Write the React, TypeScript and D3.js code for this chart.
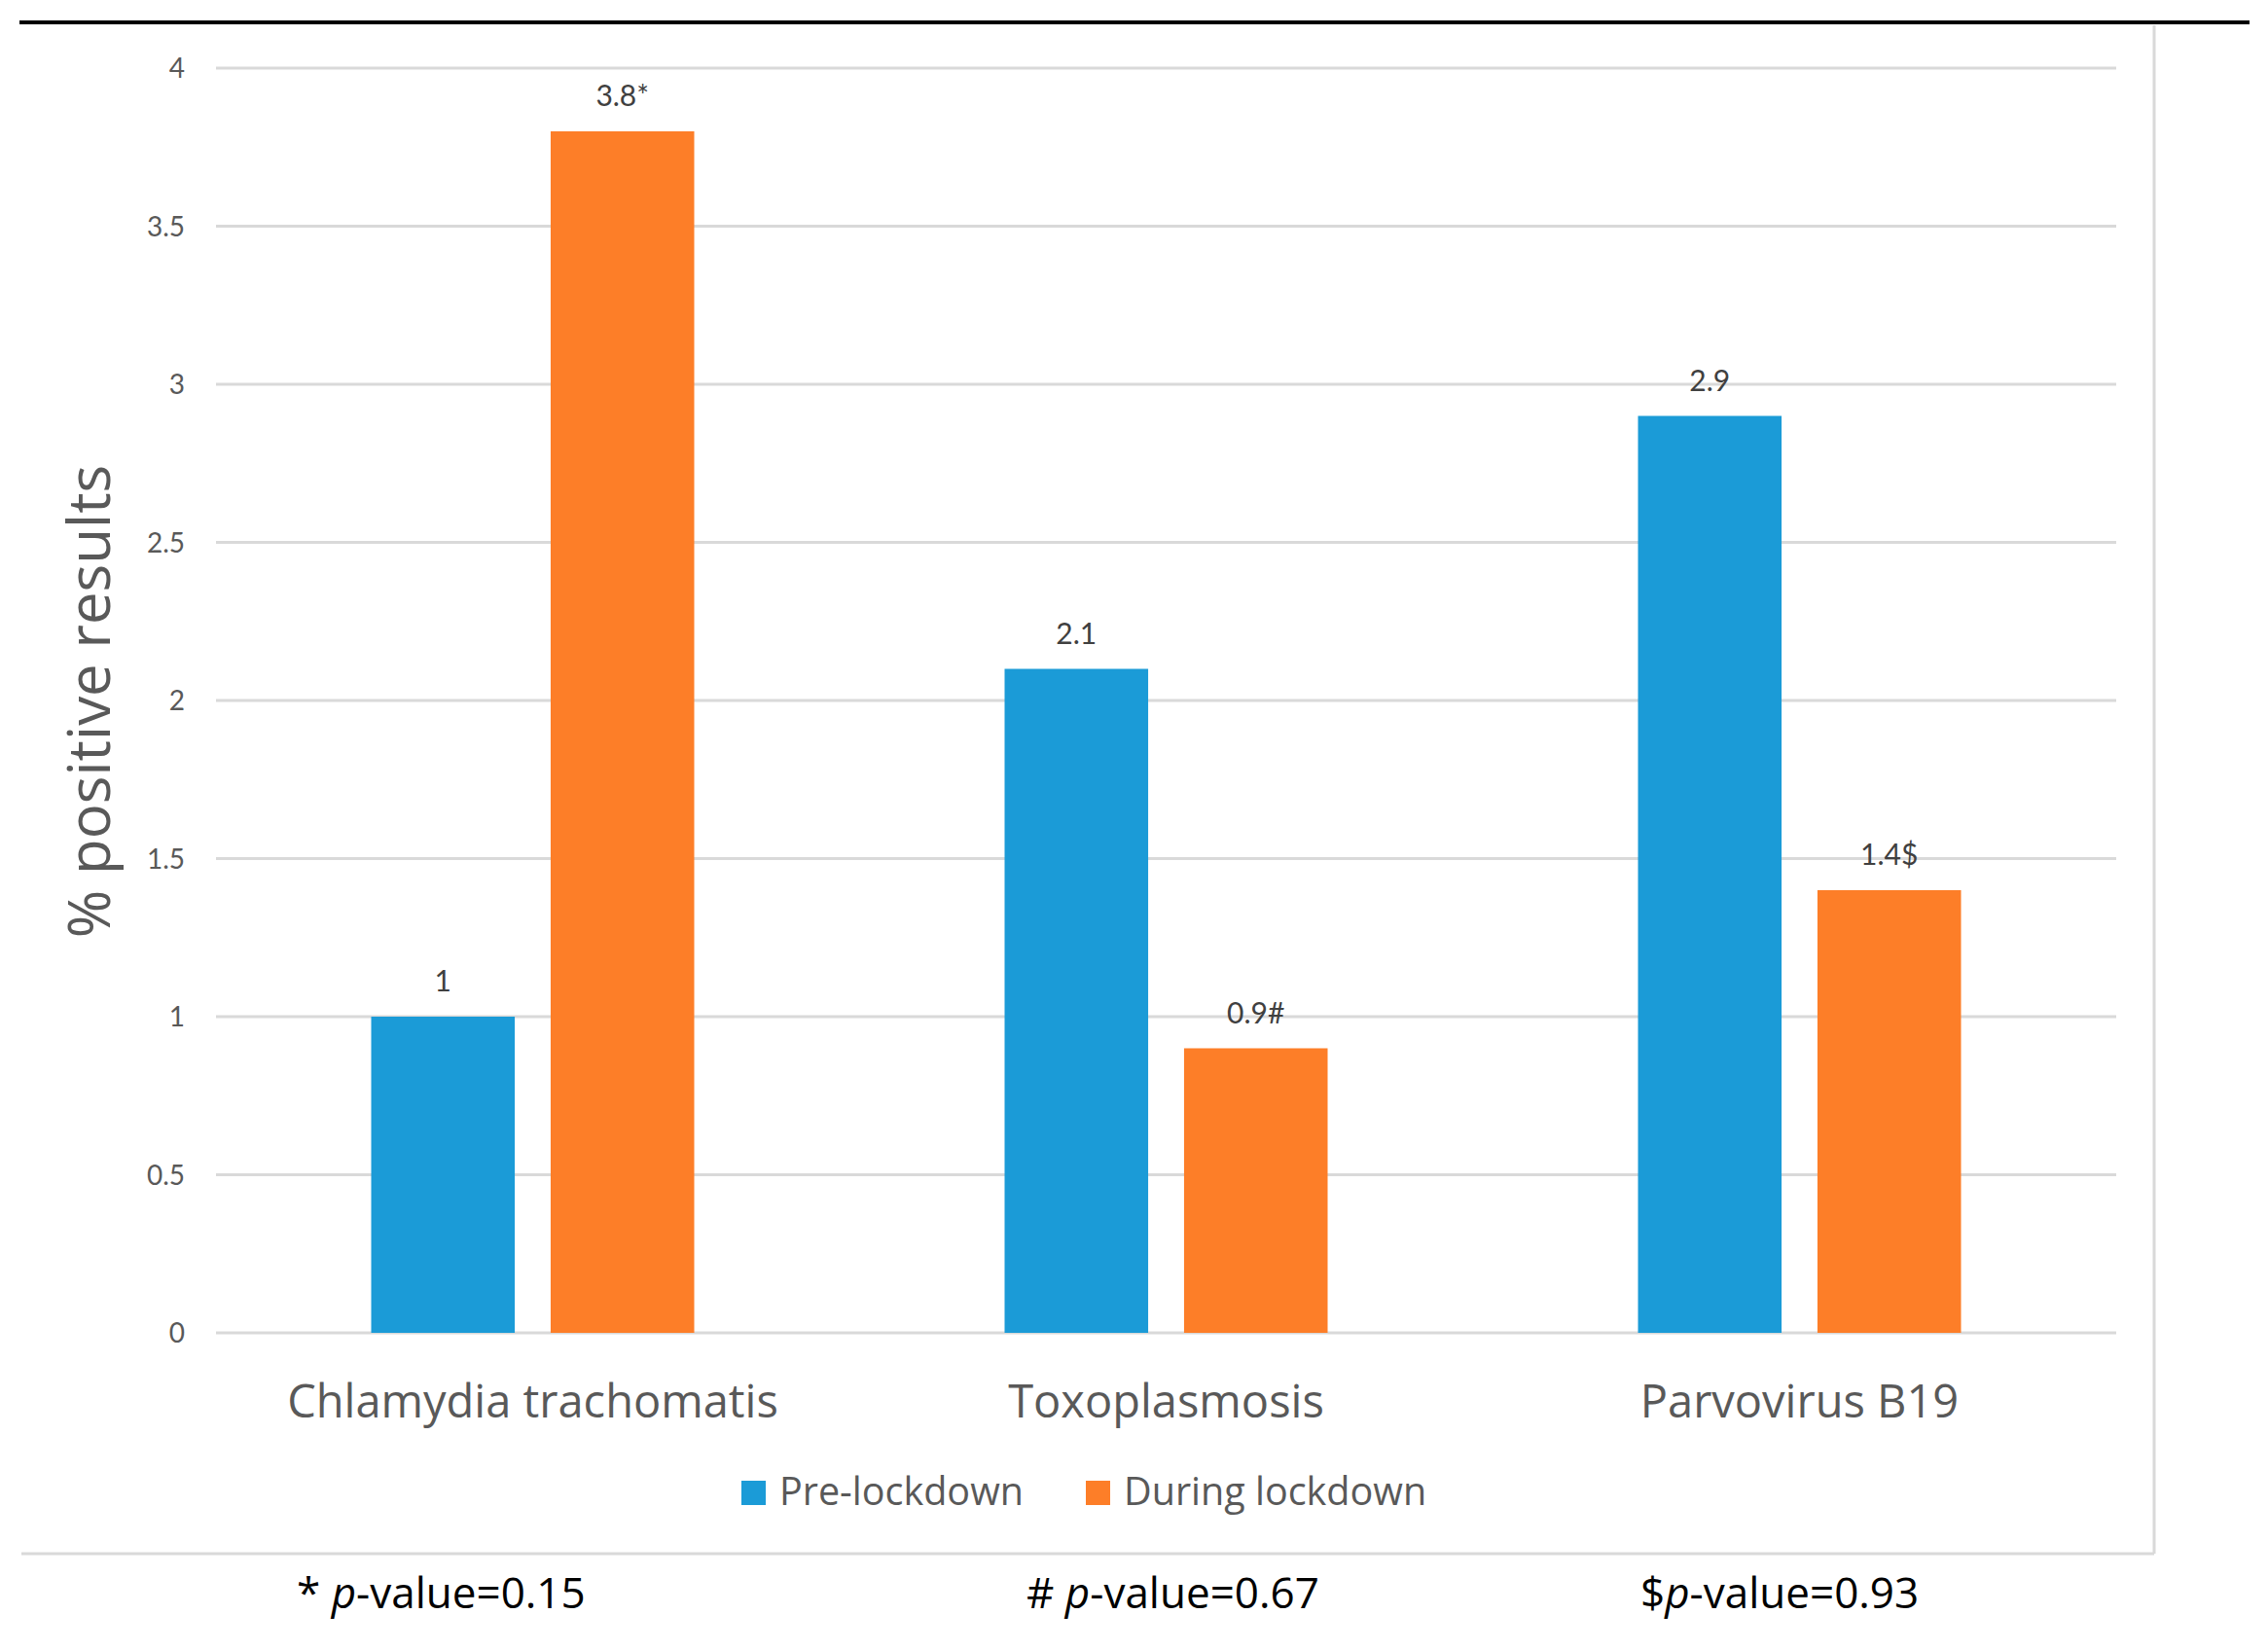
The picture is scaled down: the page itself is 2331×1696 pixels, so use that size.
import React, { useEffect, useRef } from 'react';
import * as d3 from 'd3';

// chart data
const categories = ['Chlamydia trachomatis', 'Toxoplasmosis', 'Parvovirus B19'];
const seriesNames = ['Pre-lockdown', 'During lockdown'];
const preLockdown = [1, 2.1, 2.9];
const duringLockdown = [3.8, 0.9, 1.4];
const preLabels = ['1', '2.1', '2.9'];
const duringLabels = ['3.8*', '0.9#', '1.4$'];
const yTicks = [0, 0.5, 1, 1.5, 2, 2.5, 3, 3.5, 4];
const footnoteMarks = ['* ', '# ', '$'];
const footnoteValues = ['-value=0.15', '-value=0.67', '-value=0.93'];

const colors = ['#1b9bd7', '#fd7e28'];
const NUM_FONT = 'Lato, "Open Sans", sans-serif';
const FONT = '"Open Sans", Lato, sans-serif';

const App: React.FC = () => {
  const svgRef = useRef<SVGSVGElement | null>(null);

  useEffect(() => {
    if (!svgRef.current) return;
    const svg = d3.select(svgRef.current);
    svg.selectAll('*').remove();

    const width = 2331;
    const height = 1696;
    const plot = { left: 222, right: 2175, top: 70, bottom: 1370 };

    svg.append('rect').attr('width', width).attr('height', height).attr('fill', '#fff');

    // top rule
    svg.append('line')
      .attr('x1', 20).attr('x2', 2312)
      .attr('y1', 23).attr('y2', 23)
      .attr('stroke', '#000').attr('stroke-width', 4);

    // chart area border (right + bottom)
    svg.append('line')
      .attr('x1', 2214).attr('x2', 2214)
      .attr('y1', 26).attr('y2', 1597)
      .attr('stroke', '#d9d9d9').attr('stroke-width', 3);
    svg.append('line')
      .attr('x1', 22).attr('x2', 2214)
      .attr('y1', 1597).attr('y2', 1597)
      .attr('stroke', '#d9d9d9').attr('stroke-width', 3);

    const y = d3.scaleLinear().domain([0, 4]).range([plot.bottom, plot.top]);
    const x0 = d3.scaleBand<string>().domain(categories).range([plot.left, plot.right]).padding(0);
    const groupW = 332;
    const x1 = d3.scaleBand<string>()
      .domain(seriesNames)
      .range([(x0.bandwidth() - groupW) / 2, (x0.bandwidth() + groupW) / 2])
      .paddingInner(0.2)
      .paddingOuter(0);

    // gridlines
    svg.append('g')
      .selectAll('line')
      .data(yTicks)
      .join('line')
      .attr('x1', plot.left).attr('x2', plot.right)
      .attr('y1', d => y(d)).attr('y2', d => y(d))
      .attr('stroke', '#d9d9d9').attr('stroke-width', 3);

    // y tick labels
    svg.append('g')
      .selectAll('text')
      .data(yTicks)
      .join('text')
      .attr('x', 190)
      .attr('y', d => y(d) + 10)
      .attr('text-anchor', 'end')
      .attr('font-family', NUM_FONT)
      .attr('font-size', 28)
      .attr('fill', '#595959')
      .text(d => String(d));

    // bars
    const series = [preLockdown, duringLockdown];
    const labels = [preLabels, duringLabels];
    series.forEach((vals, si) => {
      const g = svg.append('g');
      g.selectAll('rect')
        .data(vals)
        .join('rect')
        .attr('x', (_, i) => (x0(categories[i]) ?? 0) + (x1(seriesNames[si]) ?? 0))
        .attr('y', d => y(d))
        .attr('width', x1.bandwidth())
        .attr('height', d => y(0) - y(d))
        .attr('fill', colors[si]);
      g.selectAll('text')
        .data(vals)
        .join('text')
        .attr('x', (_, i) => (x0(categories[i]) ?? 0) + (x1(seriesNames[si]) ?? 0) + x1.bandwidth() / 2)
        .attr('y', d => y(d) - 26)
        .attr('text-anchor', 'middle')
        .attr('font-family', NUM_FONT)
        .attr('font-size', 30)
        .attr('fill', '#404040')
        .text((_, i) => labels[si][i]);
    });

    // category labels
    svg.append('g')
      .selectAll('text')
      .data(categories)
      .join('text')
      .attr('x', d => (x0(d) ?? 0) + x0.bandwidth() / 2)
      .attr('y', 1457)
      .attr('text-anchor', 'middle')
      .attr('font-family', FONT)
      .attr('font-size', 47)
      .attr('fill', '#595959')
      .text(d => d);

    // y axis title
    svg.append('text')
      .attr('transform', 'translate(113,721) rotate(-90)')
      .attr('text-anchor', 'middle')
      .attr('font-family', FONT)
      .attr('font-size', 60)
      .attr('fill', '#595959')
      .text('% positive results');

    // legend
    const legendX = [762, 1116];
    seriesNames.forEach((name, i) => {
      svg.append('rect')
        .attr('x', legendX[i]).attr('y', 1522)
        .attr('width', 25).attr('height', 25)
        .attr('fill', colors[i]);
      svg.append('text')
        .attr('x', legendX[i] + 39).attr('y', 1547)
        .attr('font-family', FONT)
        .attr('font-size', 39.5)
        .attr('fill', '#595959')
        .text(name);
    });

    // footnotes
    const footX = [305, 1055, 1686];
    footnoteValues.forEach((v, i) => {
      const t = svg.append('text')
        .attr('x', footX[i]).attr('y', 1653)
        .attr('font-family', FONT)
        .attr('font-size', 44)
        .attr('fill', '#000');
      t.append('tspan').text(footnoteMarks[i]);
      t.append('tspan').attr('font-style', 'italic').text('p');
      t.append('tspan').text(v);
    });
  }, []);

  return (
    <svg
      ref={svgRef}
      width={2331}
      height={1696}
      style={{ position: 'absolute', left: 0, top: 0, display: 'block' }}
    />
  );
};

export default App;
